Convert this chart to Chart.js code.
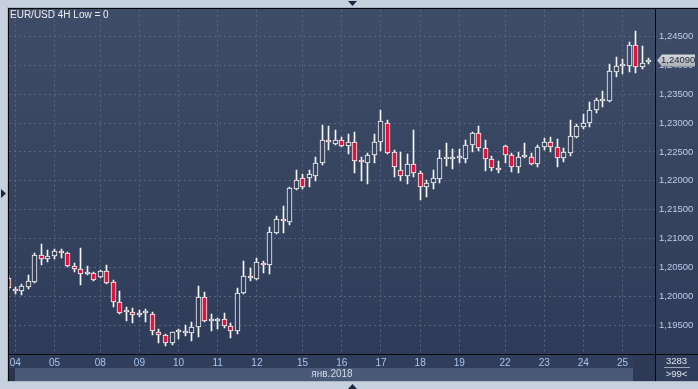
<!DOCTYPE html>
<html><head><meta charset="utf-8">
<script src="https://cdn.jsdelivr.net/npm/chart.js@4.4.1/dist/chart.umd.min.js"></script>
<style>html,body{margin:0;padding:0;background:#c6d1dd;overflow:hidden}#wrap{width:698px;height:389px;position:relative}</style>
</head><body><div id="wrap"><canvas id="c" width="698" height="389"></canvas></div>
<script>
// ---- data (EUR/USD 4H candles) ----
const dayLabels = ['04','05','08','09','10','11','12','15','16','17','18','19','22','23','24','25'];
const dayStartIdx = [1,7,14,20,26,32,38,45,51,57,63,69,76,82,88,94];
const opens = [1.20313,1.20122,1.20087,1.20156,1.20243,1.20712,1.20642,1.20694,1.20781,1.20747,
1.20521,1.20469,1.20382,1.20399,1.20330,1.20434,1.20243,1.19896,1.19722,1.19722,
1.19670,1.19705,1.19688,1.19375,1.19323,1.19184,1.19375,1.19358,1.19358,1.19462,
1.19983,1.19566,1.19566,1.19601,1.19479,1.19392,1.20052,1.20347,1.20295,1.20573,
1.20538,1.21094,1.21337,1.21285,1.21858,1.22049,1.22049,1.22083,1.22309,1.22708,
1.22639,1.22708,1.22604,1.22674,1.22361,1.22309,1.22448,1.22674,1.23003,1.22500,
1.22187,1.22083,1.22292,1.22135,1.21892,1.21962,1.22031,1.22378,1.22378,1.22396,
1.22378,1.22622,1.22830,1.22569,1.22378,1.22222,1.22604,1.22448,1.22240,1.22413,
1.22413,1.22292,1.22587,1.22674,1.22587,1.22396,1.22483,1.22760,1.22934,1.23003,
1.23229,1.23385,1.23385,1.23889,1.23993,1.23993,1.24358,1.23976,1.24062];
const highs = [1.20347,1.20156,1.20208,1.20365,1.20747,1.20903,1.20799,1.20816,1.20816,1.20764,
1.20573,1.20833,1.20521,1.20417,1.20451,1.20538,1.20278,1.20087,1.19809,1.19792,
1.19757,1.19774,1.19722,1.19427,1.19340,1.19380,1.19427,1.19497,1.19549,1.20174,
1.20069,1.19688,1.19618,1.19705,1.19531,1.20139,1.20608,1.20486,1.20660,1.20608,
1.21198,1.21389,1.21562,1.21892,1.22187,1.22118,1.22187,1.22413,1.22969,1.22951,
1.22882,1.22760,1.22812,1.22847,1.22413,1.22483,1.22812,1.23229,1.23056,1.22535,
1.22500,1.22465,1.22882,1.22170,1.22014,1.22187,1.22535,1.22656,1.22552,1.22552,
1.22708,1.22847,1.22951,1.22708,1.22430,1.22344,1.22622,1.22483,1.22500,1.22656,
1.22483,1.22622,1.22743,1.22760,1.22726,1.22569,1.23056,1.22986,1.23160,1.23368,
1.23437,1.23559,1.24028,1.24149,1.24115,1.24410,1.24601,1.24340,1.24132];
const lows = [1.20104,1.20035,1.20017,1.20122,1.20226,1.20538,1.20590,1.20642,1.20660,1.20503,
1.20417,1.20191,1.20365,1.20260,1.20313,1.20208,1.19809,1.19688,1.19566,1.19531,
1.19635,1.19549,1.19323,1.19184,1.19132,1.19149,1.19253,1.19306,1.19219,1.19288,
1.19549,1.19392,1.19427,1.19444,1.19271,1.19340,1.20035,1.20260,1.20278,1.20399,
1.20382,1.21076,1.21094,1.21233,1.21840,1.21858,1.21892,1.21996,1.22274,1.22535,
1.22622,1.22587,1.22465,1.22135,1.21996,1.21944,1.22309,1.22517,1.22465,1.22066,
1.21996,1.21944,1.22066,1.21667,1.21719,1.21858,1.21962,1.22257,1.22205,1.22309,
1.22309,1.22500,1.22517,1.22170,1.22170,1.22135,1.22309,1.22153,1.22135,1.22396,
1.22274,1.22240,1.22535,1.22500,1.22240,1.22326,1.22430,1.22743,1.22899,1.22934,
1.23177,1.23281,1.23368,1.23802,1.23854,1.23889,1.23871,1.23941,1.24028];
const closes = [1.20139,1.20087,1.20174,1.20260,1.20712,1.20642,1.20694,1.20781,1.20747,1.20521,
1.20469,1.20382,1.20417,1.20278,1.20434,1.20226,1.19896,1.19705,1.19725,1.19670,
1.19705,1.19708,1.19392,1.19323,1.19184,1.19375,1.19378,1.19392,1.19462,1.19983,
1.19566,1.19569,1.19601,1.19479,1.19392,1.20052,1.20347,1.20313,1.20590,1.20538,
1.21111,1.21337,1.21302,1.21875,1.22014,1.21892,1.22118,1.22309,1.22708,1.22674,
1.22708,1.22604,1.22674,1.22344,1.22326,1.22448,1.22674,1.23038,1.22483,1.22240,
1.22083,1.22292,1.22135,1.21892,1.21962,1.22049,1.22396,1.22382,1.22381,1.22399,
1.22622,1.22830,1.22569,1.22378,1.22222,1.22187,1.22448,1.22240,1.22413,1.22417,
1.22292,1.22587,1.22674,1.22587,1.22396,1.22500,1.22778,1.22951,1.23003,1.23229,
1.23403,1.23389,1.23906,1.23993,1.23997,1.24358,1.23976,1.24045,1.24090];
const yTickValues = [1.195,1.200,1.205,1.210,1.215,1.220,1.225,1.230,1.235,1.240,1.245];
const chartTitle = 'EUR/USD 4H Low = 0';
const axisTitle = 'янв.2018';
const lastPrice = 1.24090;
const barCountText = '3283';
const visibleText = '>99<';

// ---- styling ----
const FONT = 'Liberation Sans';
const RED = '#e0143c';
const WHITE = '#f6f6f6';
const GRID = '#57667f';
const BG_TOP = '#3e4c67';
const BG_BOT = '#2f3c59';

let plotGrad = null;
function getGrad(chart){
  const a = chart.chartArea;
  if (!a) return BG_TOP;
  if (!plotGrad || plotGrad._t !== a.top || plotGrad._b !== a.bottom){
    plotGrad = chart.ctx.createLinearGradient(0, a.top, 0, a.bottom);
    plotGrad.addColorStop(0, BG_TOP);
    plotGrad.addColorStop(1, BG_BOT);
    plotGrad._t = a.top; plotGrad._b = a.bottom;
  }
  return plotGrad;
}

// snap candle elements to whole pixels so they render crisp
const snapPlugin = {
  id: 'snap',
  afterDatasetsUpdate(chart){
    chart.data.datasets.forEach((ds, di) => {
      chart.getDatasetMeta(di).data.forEach(el => {
        el.x = Math.floor(el.x) + 0.5;
        el.y = Math.round(el.y);
        el.base = Math.round(el.base);
        if (Math.abs(el.base - el.y) < 2) el.base = el.y + 2;
      });
    });
  }
};

const bgPlugin = {
  id: 'bg',
  beforeDraw(chart){
    const ctx = chart.ctx, a = chart.chartArea;
    const W = chart.width, H = chart.height;
    ctx.save();
    ctx.fillStyle = '#c6d1dd';
    ctx.fillRect(0,0,W,H);
    ctx.fillStyle = '#a9b6c6';
    ctx.fillRect(7,7,W-7,375);
    const g = getGrad(chart);
    ctx.fillStyle = g;
    ctx.fillRect(8,8,W-8,a.bottom-8);
    ctx.fillStyle = '#313e5b';
    ctx.fillRect(8,a.bottom,W-8,14);
    ctx.fillStyle = '#4a5977';
    ctx.fillRect(15,a.bottom+14,618,13);
    ctx.fillStyle = '#293550';
    ctx.fillRect(8,a.bottom+14,7,13);
    ctx.fillStyle = '#2d3955';
    ctx.fillRect(633,a.bottom+1,22,26);
    ctx.fillStyle = '#313e5b';
    ctx.fillRect(a.right+1,a.bottom+14,W-a.right-1,13);
    ctx.restore();
  }
};

const fgPlugin = {
  id: 'fg',
  afterDraw(chart){
    const ctx = chart.ctx, a = chart.chartArea;
    const W = chart.width;
    ctx.save();
    ctx.fillStyle = '#05070b';
    ctx.fillRect(8,8,W-8,1);
    ctx.fillRect(8,8,1,373);
    ctx.fillRect(8,a.bottom,W-8,1);
    ctx.fillRect(a.right,8,1,373);
    ctx.fillStyle = '#eceef2';
    ctx.font = '10px "' + FONT + '"';
    ctx.textBaseline = 'middle';
    ctx.textAlign = 'left';
    ctx.fillText(chartTitle, 10, 15);
    const yS = chart.scales.y;
    const py = Math.round(yS.getPixelForValue(lastPrice)) + 0.5;
    const x0 = a.right + 2, x1 = W - 3;
    const gr = ctx.createLinearGradient(0, py-6, 0, py+6);
    gr.addColorStop(0, '#d6d9dc'); gr.addColorStop(1, '#a9aeb4');
    ctx.fillStyle = gr;
    ctx.beginPath();
    ctx.moveTo(x0, py);
    ctx.lineTo(x0+5, py-6);
    ctx.lineTo(x1, py-6);
    ctx.lineTo(x1, py+6);
    ctx.lineTo(x0+5, py+6);
    ctx.closePath();
    ctx.fill();
    ctx.fillStyle = '#1d2636';
    ctx.font = '9.5px "' + FONT + '"';
    ctx.textAlign = 'left';
    ctx.fillText(lastPrice.toFixed(5).replace('.', ','), a.right + 6, py);
    ctx.fillStyle = '#dfe4ec';
    ctx.textAlign = 'center';
    ctx.fillText(barCountText, 676.5, a.bottom + 7);
    ctx.fillText(visibleText, 676.5, a.bottom + 20);
    ctx.fillStyle = '#9aa6b8';
    ctx.fillRect(664, a.bottom + 13, 26, 1);
    ctx.fillStyle = '#1c2740';
    ctx.beginPath(); ctx.moveTo(348,1); ctx.lineTo(357,1); ctx.lineTo(352.5,6); ctx.closePath(); ctx.fill();
    ctx.beginPath(); ctx.moveTo(1,189); ctx.lineTo(6,193.5); ctx.lineTo(1,198); ctx.closePath(); ctx.fill();
    ctx.beginPath(); ctx.moveTo(348,389); ctx.lineTo(357,389); ctx.lineTo(352.5,384); ctx.closePath(); ctx.fill();
    ctx.restore();
  }
};

const idx = opens.map((_, i) => i);
const bodyData = idx.map(i => ({x: i, y: [opens[i], closes[i]]}));
const wickData = idx.map(i => ({x: i, y: [lows[i], highs[i]]}));

new Chart(document.getElementById('c'), {
  type: 'bar',
  data: {
    datasets: [
      {
        label: 'body',
        data: bodyData,
        grouped: false,
        order: 0,
        barThickness: 5,
        minBarLength: 2,
        borderWidth: 1,
        borderSkipped: false,
        borderColor: WHITE,
        backgroundColor: (c) => {
          const i = c.dataIndex;
          if (i === undefined) return RED;
          return closes[i] < opens[i] ? RED : getGrad(c.chart);
        }
      },
      {
        label: 'wick',
        data: wickData,
        grouped: false,
        order: 1,
        barThickness: 1,
        borderWidth: 0,
        backgroundColor: WHITE
      }
    ]
  },
  options: {
    responsive: false,
    animation: false,
    devicePixelRatio: 1,
    layout: {padding: {left: 9, top: 9, right: 0, bottom: 0}},
    plugins: {legend: {display: false}, tooltip: {enabled: false}, title: {display: false}},
    scales: {
      x: {
        type: 'linear',
        position: 'bottom',
        min: 0.03,
        max: 98.97,
        offset: false,
        grid: {color: GRID, drawTicks: false, offset: false, lineWidth: 1},
        border: {display: false, dash: [2,3]},
        ticks: {
          padding: 3,
          color: '#a6c5f0',
          font: {family: FONT, size: 10},
          autoSkip: false,
          maxRotation: 0,
          callback: (v) => { const k = dayStartIdx.indexOf(v); return k >= 0 ? dayLabels[k] : ''; }
        },
        title: {display: true, text: axisTitle, color: '#d3dae6', font: {family: FONT, size: 10}, padding: {top: 0, bottom: 9}},
        afterBuildTicks: (s) => { s.ticks = dayStartIdx.map(v => ({value: v})); },
        afterFit: (s) => { s.height = 35; }
      },
      y: {
        type: 'linear',
        position: 'right',
        min: 1.18998,
        max: 1.24967,
        grid: {color: GRID, drawTicks: false, lineWidth: 1},
        border: {display: false, dash: [2,3]},
        ticks: {
          padding: 4,
          color: '#bccde8',
          font: {family: FONT, size: 9.5},
          callback: (v) => v.toFixed(5).replace('.', ',')
        },
        afterBuildTicks: (s) => { s.ticks = yTickValues.map(v => ({value: v})); },
        afterFit: (s) => { s.width = 43; }
      }
    }
  },
  plugins: [snapPlugin, bgPlugin, fgPlugin]
});
</script>
</body></html>
